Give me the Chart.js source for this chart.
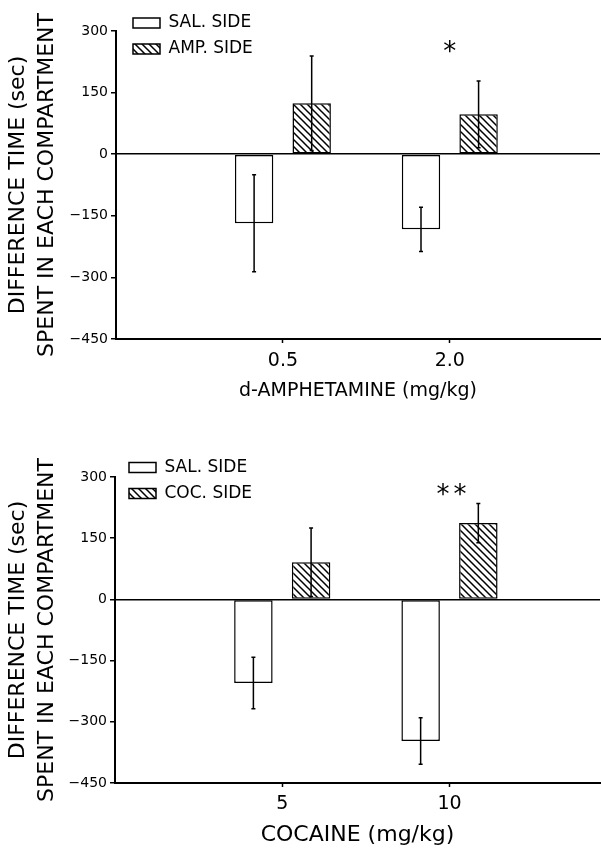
<!DOCTYPE html>
<html><head><meta charset="utf-8">
<script src="https://cdn.jsdelivr.net/npm/chart.js@4/dist/chart.umd.min.js"></script>
<style>
html,body{margin:0;padding:0;background:#fff;width:601px;height:849px;overflow:hidden}
.box{position:absolute;left:0;width:601px}
#b1{top:0;height:409px}
#b2{top:420px;height:429px}
</style></head><body>
<div class="box" id="b1"><canvas id="c1"></canvas></div>
<div class="box" id="b2"><canvas id="c2"></canvas></div>
<script>
// ---- data ----
const ampDoses = ['0.5', '2.0'];
const ampSalSide = [-168, -183];
const ampSalSideErr = [118, 54];
const ampDrugSide = [124, 97];
const ampDrugSideErr = [115, 81];
const ampSig = ['', '*'];

const cocDoses = ['5', '10'];
const cocSalSide = [-205, -347];
const cocSalSideErr = [63, 57];
const cocDrugSide = [91, 187];
const cocDrugSideErr = [84, 48];
const cocSig = ['', '**'];

const yTickValues = [-450, -300, -150, 0, 150, 300];
const yTitle = ['DIFFERENCE TIME (sec)', 'SPENT IN EACH COMPARTMENT'];

// ---- styling ----
const FONT = 'DejaVu Sans';
Chart.defaults.font.family = FONT;
Chart.defaults.color = '#000';

function hatch() {
  const s = 7;
  const c = document.createElement('canvas');
  c.width = s; c.height = s;
  const g = c.getContext('2d');
  g.fillStyle = '#fff'; g.fillRect(0, 0, s, s);
  g.strokeStyle = '#000'; g.lineWidth = 1.5;
  g.beginPath();
  g.moveTo(-1, -1); g.lineTo(s + 1, s + 1);
  g.moveTo(-1, s - 1); g.lineTo(1, s + 1);
  g.moveTo(s - 1, -1); g.lineTo(s + 1, 1);
  g.stroke();
  return g.createPattern(c, 'repeat');
}

const errorBars = {
  id: 'errorBars',
  afterDatasetsDraw(chart) {
    const ctx = chart.ctx, ys = chart.scales.y;
    chart.data.datasets.forEach((ds, di) => {
      const meta = chart.getDatasetMeta(di);
      meta.data.forEach((bar, i) => {
        const v = ds.data[i].y, e = ds.errors[i];
        const x = bar.x;
        const y1 = ys.getPixelForValue(v + e), y2 = ys.getPixelForValue(v - e);
        ctx.save();
        ctx.strokeStyle = '#000'; ctx.lineWidth = 1.5;
        ctx.beginPath();
        ctx.moveTo(x, y1); ctx.lineTo(x, y2);
        ctx.moveTo(x - 2, y1); ctx.lineTo(x + 2, y1);
        ctx.moveTo(x - 2, y2); ctx.lineTo(x + 2, y2);
        ctx.stroke();
        ctx.restore();
      });
    });
  }
};

const sigMarks = {
  id: 'sigMarks',
  afterDatasetsDraw(chart, args, opts) {
    const ctx = chart.ctx, xs = chart.scales.x, ys = chart.scales.y;
    ctx.save();
    ctx.fillStyle = '#000';
    ctx.font = '26px "' + FONT + '"';
    ctx.textAlign = 'center';
    ctx.textBaseline = 'alphabetic';
    try { ctx.letterSpacing = '4px'; } catch (e) {}
    opts.labels.forEach((t, i) => {
      if (!t) return;
      ctx.fillText(t, xs.getPixelForValue(i + 1) + (t.length > 1 ? 4 : 2), ys.getPixelForValue(opts.y) + 14);
    });
    ctx.restore();
  }
};

const legendShift = {
  id: 'legendShift',
  afterLayout(chart, args, opts) {
    if (chart.legend) { chart.legend.left += opts.dx; chart.legend.top += opts.dy; }
  }
};

function makeChart(id, doses, sal, salErr, drug, drugErr, sig, drugLabel, xTitle, g) {
  const pattern = hatch();
  return new Chart(document.getElementById(id), {
    type: 'bar',
    data: {
      datasets: [
        {
          label: 'SAL. SIDE',
          data: doses.map((d, i) => ({ x: i + 1, y: sal[i] })),
          errors: salErr,
          backgroundColor: '#fff', borderColor: '#000', borderWidth: 1.5, borderSkipped: false,
          categoryPercentage: 0.69, barPercentage: 0.667
        },
        {
          label: drugLabel,
          data: doses.map((d, i) => ({ x: i + 1, y: drug[i] })),
          errors: drugErr,
          backgroundColor: pattern, borderColor: '#000', borderWidth: 1.5, borderSkipped: false,
          categoryPercentage: 0.69, barPercentage: 0.667
        }
      ]
    },
    options: {
      responsive: true, maintainAspectRatio: false, animation: false, devicePixelRatio: 1,
      layout: { padding: { top: g.top, left: 0, right: 1, bottom: 0 } },
      plugins: {
        tooltip: { enabled: false },
        legend: {
          position: 'chartArea', align: 'start',
          labels: { boxWidth: 27, boxHeight: 10, padding: 9, color: '#000', font: { family: FONT, size: 17 } }
        },
        legendShift: { dx: g.ldx, dy: g.ldy },
        sigMarks: { labels: sig, y: g.sigY }
      },
      scales: {
        x: {
          type: 'linear', min: 0, max: 2.9, offset: false,
          afterBuildTicks: s => { s.ticks = doses.map((d, i) => ({ value: i + 1 })); },
          afterFit: s => { s.height = g.xh; },
          ticks: { autoSkip: false, maxRotation: 0, padding: g.xtp, font: { size: 19 }, color: '#000',
                   callback: (v, i) => doses[i] },
          grid: { drawOnChartArea: false, offset: false, tickLength: 4, tickColor: '#000', tickWidth: 1.5 },
          border: { display: true, color: '#000', width: 2 },
          title: { display: true, text: xTitle, font: { size: g.xtf }, color: '#000', padding: { top: 0, bottom: g.xttp } }
        },
        y: {
          min: -450, max: 300,
          afterBuildTicks: s => { s.ticks = yTickValues.map(v => ({ value: v })); },
          afterFit: s => { s.width = g.yw; },
          ticks: { padding: 3, font: { size: 14 }, color: '#000',
                   callback: v => (v < 0 ? '\u2212' + Math.abs(v) : String(v)) },
          grid: { color: c => (c.tick && c.tick.value === 0 ? '#000' : 'rgba(0,0,0,0)'), lineWidth: 1.5,
                  tickColor: '#000', tickLength: 5, tickWidth: 1.5 },
          border: { display: true, color: '#000', width: 2 },
          title: { display: true, text: yTitle, font: { size: 22, lineHeight: 1.32 }, color: '#000', padding: { top: 4, bottom: 0 } }
        }
      }
    },
    plugins: [errorBars, sigMarks, legendShift]
  });
}

makeChart('c1', ampDoses, ampSalSide, ampSalSideErr, ampDrugSide, ampDrugSideErr, ampSig,
  'AMP. SIDE', 'd-AMPHETAMINE (mg/kg)',
  { top: 31, yw: 116, xh: 70, xtp: 7, xttp: 7, xtf: 19, ldx: 8, ldy: 5.5, sigY: 263 });
makeChart('c2', cocDoses, cocSalSide, cocSalSideErr, cocDrugSide, cocDrugSideErr, cocSig,
  'COC. SIDE', 'COCAINE (mg/kg)',
  { top: 57, yw: 115, xh: 66, xtp: 6, xttp: 0.5, xtf: 22, ldx: 5, ldy: 30, sigY: 270 });
</script>
</body></html>
